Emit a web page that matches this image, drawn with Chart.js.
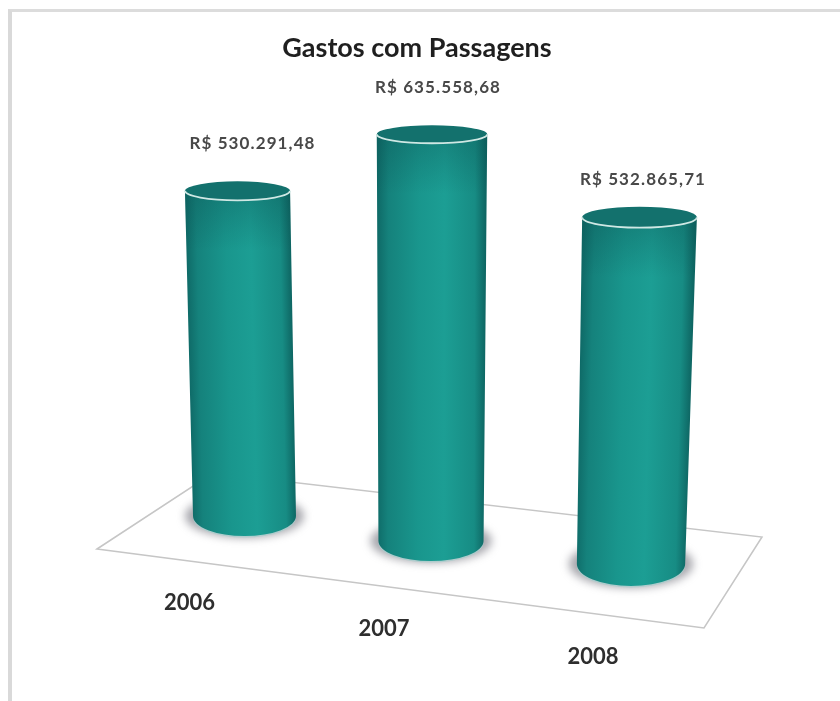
<!DOCTYPE html>
<html>
<head>
<meta charset="utf-8">
<title>Gastos com Passagens</title>
<script src="https://cdn.jsdelivr.net/npm/chart.js@4"></script>
<style>
html,body{margin:0;padding:0;background:#fff;}
#wrap{position:relative;width:840px;height:701px;overflow:hidden;}
#frame{position:absolute;left:8px;top:9px;right:-5px;bottom:-5px;border-left:4px solid #d9d9d9;border-top:3px solid #dcdcdc;}
canvas{position:absolute;left:0;top:0;filter:blur(0.4px);}
</style>
</head>
<body>
<div id="wrap">
<div id="frame"></div>
<canvas id="grafico" width="840" height="701"></canvas>
</div>
<script>
const years = ["2006","2007","2008"];
const gastos = [530291.48,635558.68,532865.71];
const chartTitle = "Gastos com Passagens";

// the picture is a perspective view, so each cylinder is moved away from its
// flat bar: shift = base moved from the flat bar, squash = height factor,
// baseW/topW = width factor, lean = top centre against base centre
const views = [
	{shiftX:20.5,shiftY:-25,squash:0.958,baseW:0.97,topW:0.99,lean:-7,baseRy:20,topRy:9.5,valX:15,valY:-47,yearX:-55,yearY:87},
	{shiftX:14,shiftY:0,squash:1,baseW:0.99,topW:1.04,lean:1,baseRy:20,topRy:9,valX:6,valY:-47,yearX:-47,yearY:88},
	{shiftX:21,shiftY:23,squash:1.017,baseW:1.02,topW:1.08,lean:8.5,baseRy:22,topRy:10.5,valX:3.5,valY:-38,yearX:-38,yearY:93}
];
const floorCorners = [[97,549],[213,473],[762,537],[704,628]];

function moeda(v){
	return "R$ "+v.toLocaleString("pt-BR",{minimumFractionDigits:2,maximumFractionDigits:2});
}

function cylinderOf(el,view){
	let h = (el.base-el.y)*view.squash;
	let baseX = el.x+view.shiftX;
	let baseY = el.base+view.shiftY;
	return {
		baseX:baseX,
		baseY:baseY,
		topX:baseX+view.lean,
		topY:baseY-h,
		baseR:el.width*view.baseW/2,
		topR:el.width*view.topW/2
	};
}

function drawShadow(ctx,c,view){
	ctx.save();
	ctx.filter = "blur(4px)";
	ctx.fillStyle = "rgba(110,110,120,0.6)";
	ctx.beginPath();
	ctx.ellipse(c.baseX,c.baseY,c.baseR+8,view.baseRy+2,0,0,Math.PI*2);
	ctx.fill();
	ctx.restore();
}

function drawCylinder(ctx,c,view){
	// shading runs across the axis of the cylinder
	let ax = c.baseX-c.topX, ay = c.baseY-c.topY;
	let len = Math.sqrt(ax*ax+ay*ay);
	let px = ay/len, py = -ax/len;
	let mx = (c.baseX+c.topX)/2, my = (c.baseY+c.topY)/2;
	let r = (c.baseR+c.topR)/2;
	let grad = ctx.createLinearGradient(mx-px*r,my-py*r,mx+px*r,my+py*r);
	grad.addColorStop(0,"#0f6b68");
	grad.addColorStop(0.1,"#15827c");
	grad.addColorStop(0.38,"#19968d");
	grad.addColorStop(0.62,"#1c9e94");
	grad.addColorStop(0.9,"#178c84");
	grad.addColorStop(1,"#0e6663");

	// light fringe under the base
	ctx.fillStyle = "rgba(170,205,205,0.8)";
	ctx.beginPath();
	ctx.ellipse(c.baseX,c.baseY+1.5,c.baseR,view.baseRy,0,0,Math.PI);
	ctx.fill();

	ctx.fillStyle = grad;
	ctx.beginPath();
	ctx.moveTo(c.topX-c.topR,c.topY);
	ctx.lineTo(c.baseX-c.baseR,c.baseY);
	ctx.ellipse(c.baseX,c.baseY,c.baseR,view.baseRy,0,Math.PI,0,true);
	ctx.lineTo(c.topX+c.topR,c.topY);
	ctx.closePath();
	ctx.fill();

	// darker band just below the rim
	let band = ctx.createLinearGradient(0,c.topY,0,c.topY+60);
	band.addColorStop(0,"rgba(10,80,80,0.35)");
	band.addColorStop(1,"rgba(10,80,80,0)");
	ctx.fillStyle = band;
	ctx.fill();

	// top cap with the white rim on the front
	ctx.fillStyle = "#13716d";
	ctx.beginPath();
	ctx.ellipse(c.topX,c.topY,c.topR,view.topRy,0,0,Math.PI*2);
	ctx.fill();
	ctx.strokeStyle = "#cfe8e4";
	ctx.lineWidth = 1.8;
	ctx.beginPath();
	ctx.ellipse(c.topX,c.topY,c.topR,view.topRy,0,Math.PI,0,true);
	ctx.stroke();
}

const floorPlugin = {
	id:"floor",
	beforeDatasetsDraw(chart){
		let ctx = chart.ctx;
		ctx.save();
		ctx.strokeStyle = "#c6c6c6";
		ctx.lineWidth = 1.5;
		ctx.beginPath();
		floorCorners.forEach((p,i)=>{
			if(i==0) ctx.moveTo(p[0],p[1]);
			else ctx.lineTo(p[0],p[1]);
		});
		ctx.closePath();
		ctx.stroke();
		ctx.restore();
	}
};

const cylinderPlugin = {
	id:"cylinders",
	afterDatasetsDraw(chart){
		let ctx = chart.ctx;
		let bars = chart.getDatasetMeta(0).data;
		ctx.save();
		bars.forEach((el,i)=>{
			let view = views[i];
			let c = cylinderOf(el,view);
			drawShadow(ctx,c,view);
			drawCylinder(ctx,c,view);

			ctx.textAlign = "center";
			ctx.textBaseline = "middle";
			ctx.fillStyle = "#484848";
			ctx.font = "bold 17px Lato";
			ctx.letterSpacing = "1.1px";
			ctx.fillText(moeda(gastos[i]),c.topX+view.valX,c.topY+view.valY);
			ctx.fillStyle = "#2e2e2e";
			ctx.font = "bold 22px Lato";
			ctx.letterSpacing = "0px";
			ctx.fillText(years[i],c.baseX+view.yearX,c.baseY+view.yearY);
		});
		ctx.restore();
	}
};

new Chart(document.getElementById("grafico"),{
	type:"bar",
	data:{
		labels:years,
		datasets:[{
			label:chartTitle,
			data:gastos,
			backgroundColor:"rgba(0,0,0,0)",
			barPercentage:0.55,
			categoryPercentage:1
		}]
	},
	options:{
		responsive:false,
		animation:false,
		devicePixelRatio:1,
		layout:{padding:{left:127.5,right:133.5,top:32,bottom:160}},
		scales:{
			x:{display:false},
			y:{display:false,min:0,max:700000}
		},
		plugins:{
			legend:{display:false},
			tooltip:{enabled:false},
			title:{
				display:true,
				text:chartTitle,
				color:"#1f1f1f",
				font:{family:"Lato",size:27,weight:"bold",lineHeight:1.2},
				padding:{top:0,bottom:28.6}
			}
		}
	},
	plugins:[floorPlugin,cylinderPlugin]
});
</script>
</body>
</html>
